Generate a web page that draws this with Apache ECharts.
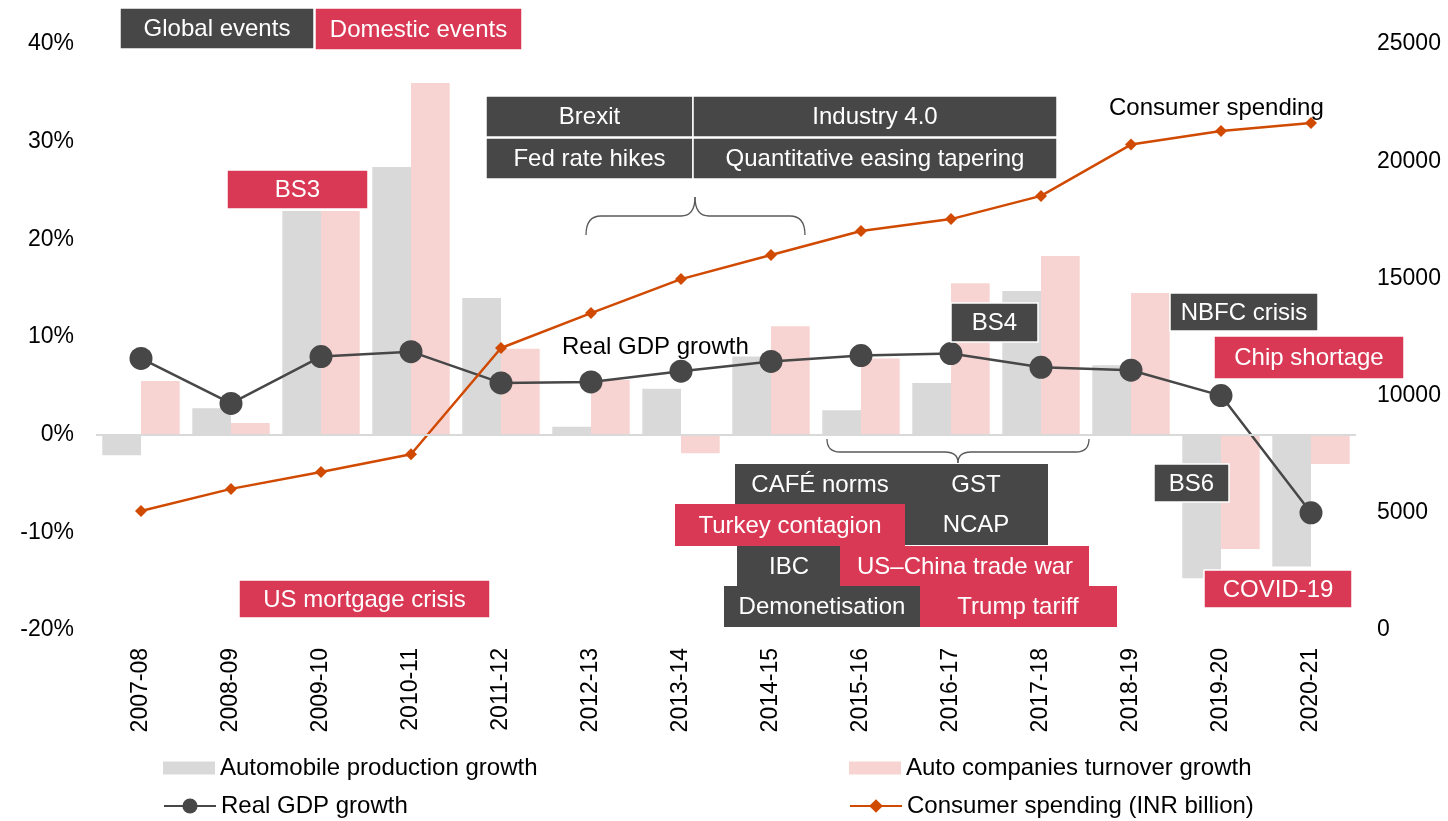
<!DOCTYPE html>
<html>
<head>
<meta charset="utf-8">
<script src="https://cdn.jsdelivr.net/npm/echarts@6/dist/echarts.min.js"></script>
<style>
html, body { margin: 0; padding: 0; background: #fff; }
#container { width: 1448px; height: 821px; }
</style>
</head>
<body>
<div id="container"></div>
<script>
var years = ['2007-08', '2008-09', '2009-10', '2010-11', '2011-12', '2012-13', '2013-14',
             '2014-15', '2015-16', '2016-17', '2017-18', '2018-19', '2019-20', '2020-21'];
var productionGrowth = [-2.1, 2.7, 22.9, 27.4, 14.0, 0.8, 4.7, 8.0, 2.5, 5.3, 14.7, 7.1, -14.7, -13.5];
var turnoverGrowth = [5.5, 1.2, 22.9, 36.0, 8.8, 5.6, -1.9, 11.1, 7.8, 15.5, 18.3, 14.5, -11.7, -3.0];
var gdpGrowth = [7.8, 3.2, 8.0, 8.5, 5.3, 5.4, 6.5, 7.5, 8.1, 8.3, 6.9, 6.6, 4.0, -8.0];
var consumerSpending = [5080, 6020, 6740, 7500, 12030, 13520, 14970, 16000, 17020, 17530, 18520, 20710, 21290, 21630];

var DARK = '#474747';
var ROSE = '#D93954';
var FONT = 'Liberation Sans, Arial, sans-serif';

var dom = document.getElementById('container');
var myChart = echarts.init(dom);

// event boxes: text, x1, y1, x2, y2, colour, white border, text x
var boxes = [
    ['Global events', 120, 8, 314, 49, DARK, true],
    ['Domestic events', 315, 8, 522, 50, ROSE, true],
    ['Brexit', 486, 96, 693, 137, DARK, true],
    ['Industry 4.0', 693, 96, 1057, 137, DARK, true],
    ['Fed rate hikes', 486, 138, 693, 179, DARK, true],
    ['Quantitative easing tapering', 693, 138, 1057, 179, DARK, true],
    ['BS3', 227, 170, 368, 209, ROSE, true],
    ['BS4', 951, 303, 1038, 342, DARK, true],
    ['NBFC crisis', 1170, 293, 1318, 331, DARK, true],
    ['Chip shortage', 1214, 336, 1404, 379, ROSE, true],
    ['BS6', 1154, 464, 1229, 502, DARK, true],
    ['COVID-19', 1204, 570, 1352, 608, ROSE, true],
    ['US mortgage crisis', 239, 580, 490, 618, ROSE, true],
    ['CAFÉ norms', 735, 464, 1048, 504, DARK, false, 820],
    ['NCAP', 905, 504, 1048, 545, DARK, false, 976],
    ['Turkey contagion', 675, 504, 905, 546, ROSE, false, 790],
    ['IBC', 737, 546, 840, 586, DARK, false, 789],
    ['US\u2013China trade war', 840, 546, 1089, 586, ROSE, false, 965],
    ['Demonetisation', 724, 586, 920, 627, DARK, false, 822],
    ['Trump tariff', 920, 586, 1117, 627, ROSE, false, 1018]
];

var graphics = [];
boxes.forEach(function (b) {
    graphics.push({
        type: 'rect',
        z: 100,
        shape: { x: b[1], y: b[2], width: b[3] - b[1], height: b[4] - b[2] },
        style: { fill: b[5], stroke: b[6] ? '#fff' : null, lineWidth: b[6] ? 1.5 : 0 }
    });
    graphics.push({
        type: 'text',
        z: 101,
        x: b[7] !== undefined ? b[7] : (b[1] + b[3]) / 2,
        y: (b[2] + b[4]) / 2 + 1,
        style: {
            text: b[0], fill: '#fff', font: '24px ' + FONT,
            textAlign: 'center', textVerticalAlign: 'middle'
        }
    });
});
graphics.push({
    type: 'text', z: 101, x: 976, y: 485,
    style: { text: 'GST', fill: '#fff', font: '24px ' + FONT, textAlign: 'center', textVerticalAlign: 'middle' }
});

// braces, built from straight and curved pieces
var braceStyle = { fill: null, stroke: '#595959', lineWidth: 1.3 };
function curve(x1, y1, cx, cy, x2, y2) {
    graphics.push({ type: 'bezierCurve', z: 99,
        shape: { x1: x1, y1: y1, cpx1: cx, cpy1: cy, x2: x2, y2: y2 }, style: braceStyle });
}
function seg(x1, y1, x2, y2) {
    graphics.push({ type: 'line', z: 99,
        shape: { x1: x1, y1: y1, x2: x2, y2: y2 }, style: braceStyle });
}
// top brace (points up)
curve(586, 235, 586, 216, 601, 216);
seg(601, 216, 681, 216);
curve(681, 216, 695, 216, 695, 197);
curve(695, 197, 695, 216, 709, 216);
seg(709, 216, 790, 216);
curve(790, 216, 805, 216, 805, 235);
// bottom brace (points down)
curve(827, 439, 827, 452, 840, 452);
seg(840, 452, 945, 452);
curve(945, 452, 958, 452, 958, 463);
curve(958, 463, 958, 452, 971, 452);
seg(971, 452, 1076, 452);
curve(1076, 452, 1089, 452, 1089, 439);

// line captions
graphics.push({
    type: 'text', z: 101, x: 562, y: 347,
    style: { text: 'Real GDP growth', fill: '#000', font: '24px ' + FONT, textAlign: 'left', textVerticalAlign: 'middle' }
});
graphics.push({
    type: 'text', z: 101, x: 1109, y: 108,
    style: { text: 'Consumer spending', fill: '#000', font: '24px ' + FONT, textAlign: 'left', textVerticalAlign: 'middle' }
});

function legendItem(item, left, top, h) {
    return {
        data: [item],
        left: left, top: top,
        padding: 0,
        itemWidth: 52, itemHeight: h, itemGap: 0,
        textStyle: { fontSize: 24, fontFamily: FONT, color: '#000', lineHeight: 24, padding: [0, 0, 0, 0] }
    };
}

option = {
    animation: false,
    backgroundColor: '#fff',
    textStyle: { fontFamily: FONT },
    grid: { left: 96, right: 92, top: 44, bottom: 191 },
    legend: [
        legendItem({ name: 'Automobile production growth', icon: 'rect' }, 163, 756, 13),
        legendItem('Real GDP growth', 163, 794, 19),
        legendItem({ name: 'Auto companies turnover growth', icon: 'rect' }, 849, 756, 13),
        legendItem('Consumer spending (INR billion)', 849, 794, 17)
    ],
    xAxis: {
        type: 'category',
        data: years,
        axisLine: { show: false },
        axisTick: { show: false },
        axisLabel: { rotate: 90, fontSize: 23, margin: 18, color: '#000', fontFamily: FONT }
    },
    yAxis: [
        {
            type: 'value', min: -20, max: 40, interval: 10,
            splitLine: { show: false },
            axisLine: { show: false },
            axisTick: { show: false },
            axisLabel: { formatter: '{value}%', fontSize: 23, margin: 22, color: '#000', fontFamily: FONT }
        },
        {
            type: 'value', min: 0, max: 25000, interval: 5000,
            splitLine: { show: false },
            axisLine: { show: false },
            axisTick: { show: false },
            axisLabel: {
                formatter: function (v) { return String(v); },
                fontSize: 23, margin: 21, color: '#000', fontFamily: FONT
            }
        }
    ],
    series: [
        {
            name: 'Automobile production growth',
            type: 'bar',
            data: productionGrowth,
            itemStyle: { color: '#D9D9D9' },
            barGap: '0%',
            barCategoryGap: '14%',
            markLine: {
                silent: true,
                symbol: 'none',
                label: { show: false },
                lineStyle: { color: '#D9D9D9', width: 2, type: 'solid' },
                data: [{ yAxis: 0 }]
            }
        },
        {
            name: 'Auto companies turnover growth',
            type: 'bar',
            data: turnoverGrowth,
            itemStyle: { color: '#F7D4D2' },
            barGap: '0%',
            barCategoryGap: '14%'
        },
        {
            name: 'Real GDP growth',
            type: 'line',
            data: gdpGrowth,
            symbol: 'circle',
            symbolSize: 23,
            itemStyle: { color: DARK },
            lineStyle: { color: DARK, width: 2.5 },
            z: 3
        },
        {
            name: 'Consumer spending (INR billion)',
            type: 'line',
            yAxisIndex: 1,
            data: consumerSpending,
            symbol: 'diamond',
            symbolSize: 12,
            itemStyle: { color: '#D04A02' },
            lineStyle: { color: '#D04A02', width: 2.5 },
            z: 4
        }
    ],
    graphic: graphics
};

if (option && typeof option === 'object') {
    myChart.setOption(option, true);
}
</script>
</body>
</html>
